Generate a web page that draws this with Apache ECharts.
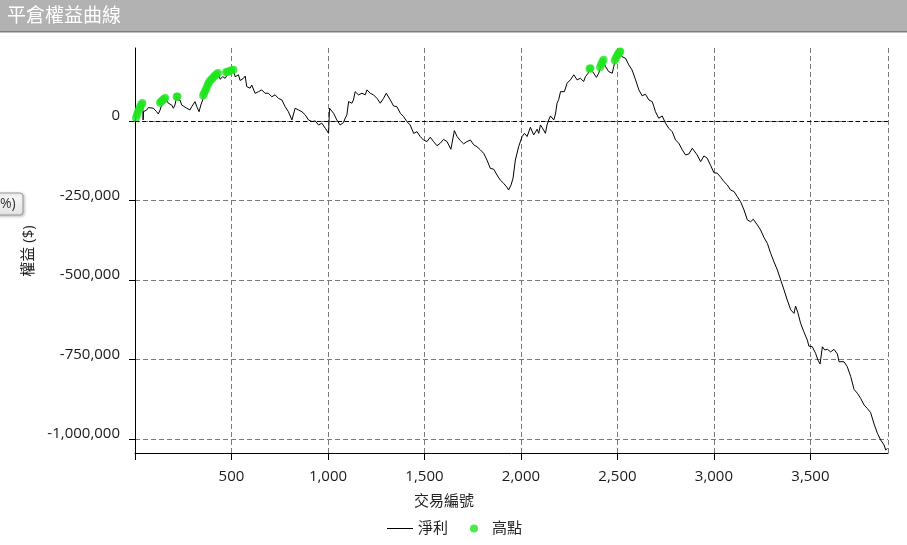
<!DOCTYPE html>
<html>
<head>
<meta charset="utf-8">
<script src="https://cdn.jsdelivr.net/npm/echarts@6/dist/echarts.min.js"></script>
<style>
html,body{margin:0;padding:0;background:#fff;}
#chart{width:907px;height:545px;}
</style>
</head>
<body>
<div id="chart"></div>
<script>
// ---- data ----
var titleText = '平倉權益曲線';
var xAxisName = '交易編號';
var yAxisName = '權益 ($)';
var seriesNames = ['淨利', '高點'];
var yTickValues = [0, -250000, -500000, -750000, -1000000];

var tradeNo = [0,9,17,29,40,42,44,61,69,78,95,112,121,130,138,147,156,164,173,190,199,207,216,222,233,242,251,268,285,294,302,311,320,332,341,351,354,372,384,398,415,432,441,455,467,479,493,510,519,527,536,545,562,571,579,596,605,622,640,657,666,674,691,709,726,743,761,778,795,813,830,847,865,882,899,917,934,951,968,986,1003,1008,1029,1046,1063,1081,1089,1098,1107,1124,1132,1141,1158,1176,1193,1202,1219,1236,1254,1271,1288,1302,1323,1340,1357,1375,1392,1409,1426,1444,1461,1478,1495,1513,1530,1547,1565,1582,1599,1617,1637,1655,1669,1686,1703,1720,1738,1755,1772,1790,1807,1824,1841,1859,1876,1893,1910,1928,1936,1949,1959,1971,1988,2006,2018,2032,2049,2066,2084,2092,2101,2109,2127,2135,2144,2153,2170,2179,2187,2196,2205,2213,2225,2239,2256,2274,2291,2308,2325,2334,2348,2358,2377,2391,2403,2412,2426,2438,2455,2473,2481,2493,2511,2521,2524,2542,2559,2576,2594,2611,2628,2645,2663,2680,2689,2697,2714,2732,2749,2766,2784,2801,2818,2836,2853,2870,2888,2896,2913,2931,2948,2965,2983,3000,3017,3035,3052,3069,3086,3104,3121,3138,3156,3173,3190,3204,3225,3242,3259,3277,3294,3311,3329,3346,3363,3380,3398,3415,3423,3435,3449,3466,3484,3492,3510,3527,3539,3550,3562,3574,3588,3605,3622,3640,3648,3674,3691,3709,3726,3743,3760,3778,3795,3812,3830,3847,3864,3882,3890,3899,3900];
var netProfit = [0,18900,34600,50300,55600,3000,29000,34600,42000,36700,40000,29000,22000,34600,50000,60000,72000,66000,55600,50000,40000,50000,76000,66000,66000,50000,45000,40000,34600,45000,50000,60700,45000,29000,50000,66000,76000,97500,118600,129000,139000,153000,131000,139000,134000,145000,155000,161000,139000,134000,145000,127000,134000,141000,108000,103000,113000,87000,92000,97500,103000,87000,87000,76000,82000,71000,66000,45000,29000,3000,40000,34600,29000,19000,3000,-2000,0,-12600,-7000,-23000,-39000,40000,24000,3000,-12600,-5000,8400,19000,60700,55600,66000,92000,82000,87000,82000,97500,87000,82000,71000,55600,71000,87000,66000,47000,45000,24000,13500,-2000,-12600,-39000,-34000,-49000,-60000,-65000,-51000,-65000,-78000,-70000,-58000,-65000,-89000,-30500,-49000,-62000,-72000,-65000,-60000,-75000,-81000,-91000,-102000,-123000,-149000,-152000,-170000,-186000,-196000,-209000,-217000,-201000,-180000,-123000,-81000,-49000,-39000,-49000,-20000,-44000,-26000,-39000,-12600,-20000,-39000,-12600,3000,15700,3000,22000,55600,68000,92000,97500,92000,118600,129000,145000,129000,134000,124000,139000,150000,165000,150000,137000,150000,168000,192000,171000,155000,150000,171000,202000,218000,215000,202000,197000,176000,160000,129000,97500,79000,84000,66000,60700,45000,29000,8400,15700,-7000,-23000,-34000,-60000,-70000,-91000,-107000,-104000,-86000,-81000,-107000,-128000,-110000,-117000,-140000,-163000,-164000,-177000,-191000,-201000,-217000,-222000,-238000,-254000,-280000,-311000,-317000,-309000,-327000,-343000,-366000,-385000,-416000,-443000,-469000,-500000,-531000,-563000,-594000,-605000,-582000,-603000,-636000,-663000,-689000,-708000,-710000,-731000,-752000,-764000,-710000,-720000,-718000,-726000,-718000,-733000,-757000,-757000,-773000,-804000,-844000,-856000,-872000,-893000,-904000,-917000,-953000,-982000,-1003000,-1019000,-1035000,-1029000,-1031000];

var highTrade = [5,10,15,21,27,33,38,130,136,142,150,156,216,220,353,358,364,370,376,382,390,398,406,414,422,430,472,480,490,500,510,2356,2360,2410,2416,2422,2428,2486,2492,2498,2504,2510,2515];
var highValue = [9000,19000,28000,37000,45000,52000,56000,57000,61000,65000,69000,72000,76000,77000,80000,87000,95000,103000,112000,120000,127000,132000,137000,142000,147000,151000,153000,155000,157000,159000,161000,164000,166000,169000,178000,186000,192000,190000,198000,205000,211000,216000,218000];

var xMin = 0, xMax = 3902, xStep = 500;
var yMin = -1044000, yMax = 229300;

// ---- build ----
var FONT = "'Open Sans','Noto Sans CJK TC',sans-serif";
function zip(a, b) { return a.map(function (v, i) { return [v, b[i]]; }); }
function fmt(v) { return Math.round(v).toLocaleString('en-US'); }

var chart = echarts.init(document.getElementById('chart'), null, { renderer: 'canvas' });
chart.setOption({
  animation: false,
  backgroundColor: '#ffffff',
  textStyle: { fontFamily: FONT },
  grid: { left: 135, right: 19, top: 48, bottom: 92, containLabel: false },
  graphic: [
    { type: 'rect', left: 0, top: 0, shape: { width: 907, height: 31 }, style: { fill: '#b2b2b2' }, z: 10 },
    { type: 'rect', left: 0, top: 31, shape: { width: 907, height: 1.5 }, style: { fill: '#7d7d7d' }, z: 10 },
    { type: 'text', x: 7, y: 15, style: { text: titleText, fill: '#ffffff', font: "19px 'Noto Sans CJK TC'", textVerticalAlign: 'middle' }, z: 11 },
    { type: 'rect', x: -8, y: 193, shape: { width: 31, height: 22, r: 3 },
      style: { fill: new echarts.graphic.LinearGradient(0, 0, 0, 1, [{ offset: 0, color: '#fbfbfb' }, { offset: 1, color: '#e3e3e3' }]),
               stroke: '#9c9c9c', lineWidth: 1, shadowColor: 'rgba(0,0,0,0.25)', shadowBlur: 3, shadowOffsetX: 1, shadowOffsetY: 1 }, z: 10 },
    { type: 'text', x: 0, y: 204, style: { text: '%)', fill: '#333', font: "14px " + FONT, textVerticalAlign: 'middle' }, z: 11 },
    { type: 'text', x: 28.5, y: 251, rotation: Math.PI / 2,
      style: { text: yAxisName, fill: '#222', font: "15px " + FONT, textAlign: 'center', textVerticalAlign: 'middle' }, z: 11 },
    { type: 'text', x: 444, y: 502,
      style: { text: xAxisName, fill: '#222', font: "15px " + FONT, textAlign: 'center', textVerticalAlign: 'middle' }, z: 11 }
  ],
  legend: {
    left: 382, top: 516, itemWidth: 26, itemHeight: 8, itemGap: 22,
    textStyle: { fontSize: 15, color: '#222', fontFamily: FONT },
    data: [
      { name: seriesNames[0], icon: 'path://M0,0L26,0L26,1L0,1Z', itemStyle: { color: '#000' } },
      { name: seriesNames[1], icon: 'circle' }
    ]
  },
  xAxis: {
    type: 'value', min: xMin, max: xMax, interval: xStep,
    axisLine: { show: true, onZero: false, lineStyle: { color: '#000', width: 1 } },
    axisTick: { show: true, length: 7, lineStyle: { color: '#000' } },
    axisLabel: { margin: 16, fontSize: 15, color: '#1a1a1a', fontFamily: FONT, showMaxLabel: false,
      formatter: function (v) { return v === 0 ? '' : fmt(v); } },
    splitLine: { show: true, lineStyle: { color: '#7a7a7a', type: [5, 3], width: 1 } }
  },
  yAxis: {
    type: 'value', min: yMin, max: yMax,
    axisLine: { show: true, lineStyle: { color: '#000', width: 1 } },
    axisTick: { show: true, length: 6, customValues: yTickValues, lineStyle: { color: '#000' } },
    axisLabel: { margin: 15, fontSize: 15, color: '#1a1a1a', fontFamily: FONT, customValues: yTickValues,
      verticalAlign: 'bottom', lineHeight: 10, formatter: function (v) { return fmt(v); } },
    splitLine: { show: true, lineStyle: { color: '#7a7a7a', type: [5, 3], width: 1 } }
  },
  series: [
    {
      name: seriesNames[0], type: 'line', data: zip(tradeNo, netProfit),
      showSymbol: false, symbol: 'none', color: '#000',
      lineStyle: { color: '#000', width: 1 }, z: 3,
      markLine: { silent: true, symbol: 'none', label: { show: false },
        lineStyle: { color: '#000', type: [4, 3], width: 1 },
        data: [{ yAxis: 0 }] }
    },
    {
      name: seriesNames[1], type: 'scatter', data: zip(highTrade, highValue),
      symbol: 'circle', symbolSize: 8, color: '#1ee61e',
      itemStyle: { color: '#1ee61e' }, z: 4
    }
  ]
});
</script>
</body>
</html>
